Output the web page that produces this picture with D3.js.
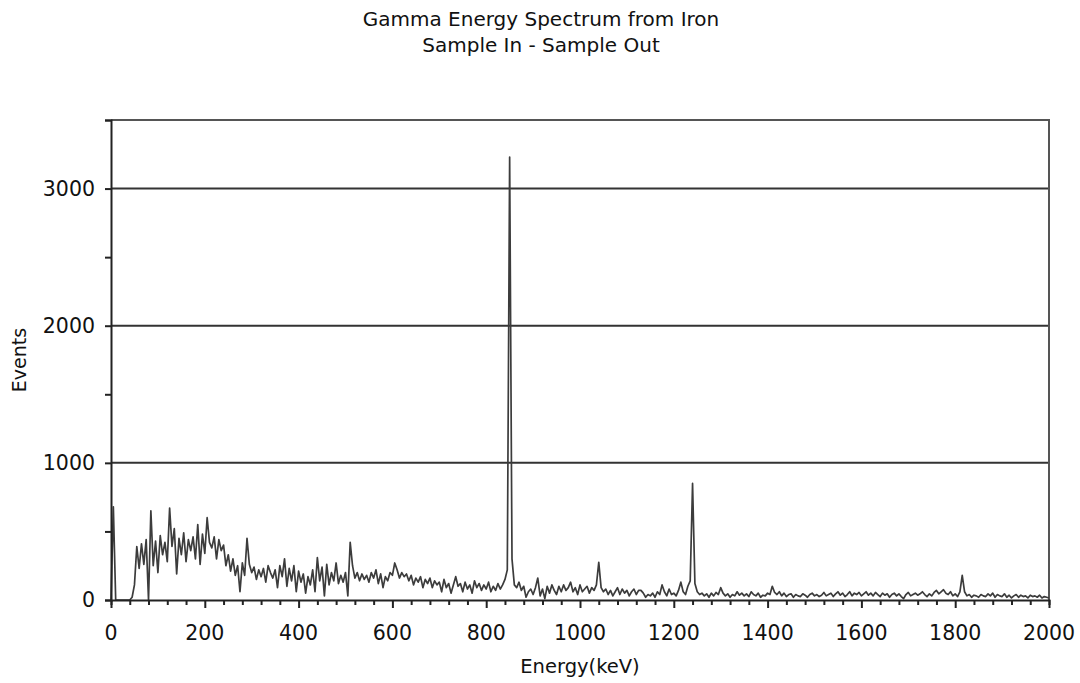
<!DOCTYPE html>
<html>
<head>
<meta charset="utf-8">
<script src="https://cdn.jsdelivr.net/npm/d3@7"></script>
<style>
  body { margin: 0; background: #fff; }
  text { font-family: "Lucida Grande", "DejaVu Sans", sans-serif; fill: #111; }
</style>
</head>
<body>
<script>
// channel width of the spectrum, keV
const step = 5;

// counts per channel, starting at 0 keV
const events = [
  0, 680, 0, 0, 0, 0, 0, 0, 0, 20,
  110, 390, 230, 410, 260, 440, 0, 650, 250, 430,
  200, 470, 330, 420, 280, 670, 390, 520, 190, 450,
  330, 490, 280, 440, 360, 460, 300, 550, 260, 480,
  340, 600, 420, 380, 460, 300, 440, 360, 400, 250,
  330, 210, 300, 180, 250, 60, 270, 180, 450, 260,
  200, 240, 150, 220, 170, 230, 130, 250, 200, 160,
  220, 90, 250, 170, 300, 100, 230, 140, 250, 60,
  210, 130, 190, 50, 170, 110, 220, 60, 310, 140,
  240, 30, 260, 110, 200, 140, 270, 120, 180, 130,
  200, 30, 420, 250, 160, 200, 140, 190, 150, 180,
  130, 200, 160, 220, 120, 190, 90, 170, 140, 200,
  180, 270, 220, 160, 200, 170, 190, 140, 180, 110,
  160, 130, 170, 90, 150, 120, 160, 90, 140, 110,
  130, 60, 150, 90, 120, 50, 110, 170, 100, 120,
  60, 130, 80, 110, 50, 140, 90, 120, 70, 110,
  80, 130, 60, 100, 70, 120, 80, 110, 150, 220,
  3230, 300, 110, 90, 130, 70, 100, 20, 60, 80,
  40, 90, 160, 30, 80, 10, 100, 50, 110, 70,
  40, 100, 60, 110, 70, 90, 130, 60, 90, 40,
  110, 60, 80, 100, 50, 90, 70, 110, 275, 90,
  60, 80, 40, 70, 30, 60, 90, 40, 80, 50,
  70, 30, 60, 80, 40, 70, 70, 50, 20, 40,
  30, 50, 20, 60, 40, 110, 60, 30, 80, 40,
  50, 30, 70, 130, 60, 40, 100, 140, 850, 120,
  60, 40, 50, 30, 45, 20, 50, 30, 55, 40,
  90, 50, 30, 45, 20, 40, 30, 60, 35, 50,
  30, 45, 25, 60, 40, 30, 50, 20, 35, 30,
  50, 40, 100, 55, 40, 60, 30, 50, 25, 40,
  45, 20, 40, 30, 25, 45, 35, 20, 40, 50,
  30, 40, 25, 35, 55, 30, 40, 50, 25, 45,
  60, 35, 50, 25, 40, 60, 30, 50, 40, 55,
  30, 45, 60, 35, 50, 30, 55, 40, 25, 50,
  35, 45, 20, 40, 50, 30, 45, 25, 10, 40,
  55, 30, 40, 50, 35, 45, 60, 40, 25, 45,
  30, 55, 70, 45, 60, 75, 50, 40, 60, 30,
  45, 25, 60, 180, 60, 30, 40, 20, 35, 30,
  20, 40, 30, 25, 45, 30, 50, 20, 40, 30,
  25, 45, 20, 35, 15, 30, 40, 20, 35, 25,
  30, 15, 35, 25, 30, 20, 35, 15, 25, 20,
  15
];

const yTicks = [0, 1000, 2000, 3000];
const yMinorTicks = [0, 500, 1000, 1500, 2000, 2500, 3000, 3500];
const xTicks = [0, 200, 400, 600, 800, 1000, 1200, 1400, 1600, 1800, 2000];
const titleLines = ["Gamma Energy Spectrum from Iron", "Sample In - Sample Out"];

const width = 1080, height = 683;
const margin = { top: 120, right: 31, bottom: 83, left: 111 };

const svg = d3.select('body')
    .append('svg')
    .attr('width', width)
    .attr('height', height);

const x = d3.scaleLinear()
    .domain([0, 2000])
    .range([margin.left, width - margin.right]);

const y = d3.scaleLinear()
    .domain([0, 3500])
    .range([height - margin.bottom, margin.top]);

// Horizontal gridlines
svg.append('g')
    .selectAll('line')
    .data(yTicks.slice(1))
    .enter()
    .append('line')
    .attr('x1', x(0))
    .attr('x2', x(2000))
    .attr('y1', d => y(d))
    .attr('y2', d => y(d))
    .style('stroke', '#333')
    .style('stroke-width', 2);

// Frame (top and right)
svg.append('path')
    .attr('d', `M${x(0)},${y(3500)}H${x(2000)}V${y(0)}`)
    .style('fill', 'none')
    .style('stroke', '#555')
    .style('stroke-width', 2);

// Spectrum line
const line = d3.line()
    .x((d, i) => x(i * step))
    .y(d => y(d));

svg.append('path')
    .datum(events)
    .attr('d', line)
    .style('fill', 'none')
    .style('stroke', '#3c3c3c')
    .style('stroke-width', 1.7)
    .style('stroke-linejoin', 'round');

// X axis: minor ticks every 40 keV, labels every 200
const xAxis = svg.append('g')
    .attr('transform', `translate(0, ${y(0)})`);

xAxis.call(d3.axisBottom(x)
        .tickValues(d3.range(0, 2001, 40))
        .tickSize(5)
        .tickFormat(''));

xAxis.call(g => g.selectAll('.tick line')
        .attr('y2', d => d % 200 === 0 ? 8 : 5));

xAxis.selectAll('.label')
    .data(xTicks)
    .enter()
    .append('text')
    .attr('class', 'label')
    .attr('x', d => x(d))
    .attr('y', 40)
    .attr('text-anchor', 'middle')
    .style('font-size', '20.5px')
    .text(d => d);

// Y axis: ticks every 500, labels every 1000
const yAxis = svg.append('g')
    .attr('transform', `translate(${x(0)}, 0)`);

yAxis.call(d3.axisLeft(y)
        .tickValues(yMinorTicks)
        .tickSize(6)
        .tickFormat(''));

yAxis.selectAll('.label')
    .data(yTicks)
    .enter()
    .append('text')
    .attr('class', 'label')
    .attr('x', -16)
    .attr('y', d => y(d))
    .attr('dy', '0.35em')
    .attr('text-anchor', 'end')
    .style('font-size', '20.5px')
    .text(d => d);

svg.selectAll('.domain, .tick line')
    .style('stroke', '#222')
    .style('stroke-width', 2);

// Axis titles
svg.append('text')
    .attr('x', (x(0) + x(2000)) / 2)
    .attr('y', 673)
    .attr('text-anchor', 'middle')
    .style('font-size', '19.5px')
    .text('Energy(keV)');

svg.append('text')
    .attr('transform', `translate(26, ${(y(0) + y(3500)) / 2}) rotate(-90)`)
    .attr('text-anchor', 'middle')
    .style('font-size', '19px')
    .text('Events');

// Title
svg.append('g')
    .selectAll('text')
    .data(titleLines)
    .enter()
    .append('text')
    .attr('x', 541)
    .attr('y', (d, i) => 26 + i * 26)
    .attr('text-anchor', 'middle')
    .style('font-size', '20px')
    .text(d => d);
</script>
</body>
</html>
